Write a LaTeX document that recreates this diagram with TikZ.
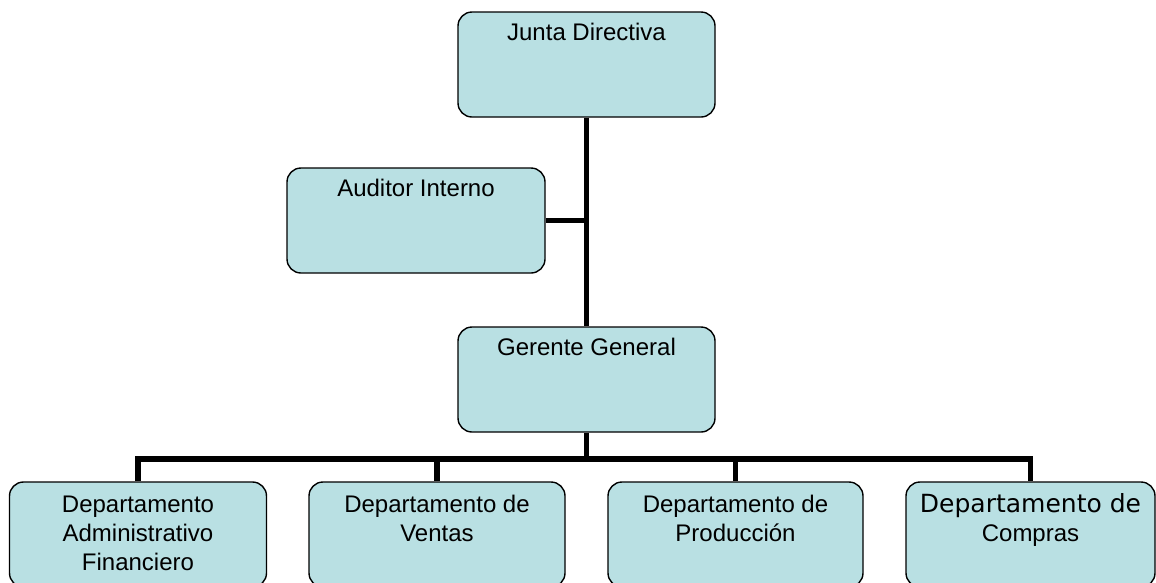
\documentclass[tikz,border=0pt]{standalone}
\usepackage{fontspec}
\setmainfont{Liberation Sans}
\newfontfamily\tahoma{DejaVu Sans}
\usepackage{tikz}
\usepackage{xcolor}
\definecolor{celeste}{RGB}{185,224,227}
\newcommand{\cajatexto}[3]{\parbox[c][105pt][t]{#1}{\centering\rule{0pt}{#2}#3}}

\begin{document}
\begin{tikzpicture}[x=1pt,y=-1pt,
    caja/.style={draw=black, line width=1.4pt, fill=celeste, rounded corners=14pt, inner sep=0pt,
        font=\fontsize{24}{29}\selectfont},
    conector/.style={black, line width=5.6pt, line join=miter}]
                \useasboundingbox (0,0) rectangle (1156,582);
                \clip (0,0) rectangle (1156,582);
                \node[caja] (junta) at (586.5,64.5) {\cajatexto{257pt}{28pt}{Junta Directiva}};
                \node[caja] (auditor) at (416,220.5) {\cajatexto{258pt}{28pt}{Auditor Interno}};
                \node[caja] (gerente) at (586.5,379.5) {\cajatexto{257pt}{28pt}{Gerente General}};
                \node[caja] (depto1) at (138,534.5) {\cajatexto{257pt}{30pt}{Departamento\\Administrativo\\Financiero}};
                \node[caja] (depto2) at (437,534.5) {\cajatexto{256pt}{30pt}{Departamento de\\Ventas}};
                \node[caja] (depto3) at (735.5,534.5) {\cajatexto{255pt}{30pt}{Departamento de\\Producción}};
                \node[caja] (depto4) at (1030.5,534.5) {\cajatexto{249pt}{30pt}{{\tahoma\fontsize{25}{29}\selectfont Departamento de}\\Compras}};
                \coordinate (barra) at (586.5,459);
                \draw[conector] (junta) -- (gerente);
                \draw[conector] (auditor.east) -- (auditor.east -| junta.south);
                \draw[conector] (gerente) -- (barra);
                \draw[conector] (depto1.north) |- (barra) -| (depto4.north);
                \draw[conector] (barra -| depto2.north) -- (depto2.north);
                \draw[conector] (barra -| depto3.north) -- (depto3.north);
            \end{tikzpicture}
\end{document}
